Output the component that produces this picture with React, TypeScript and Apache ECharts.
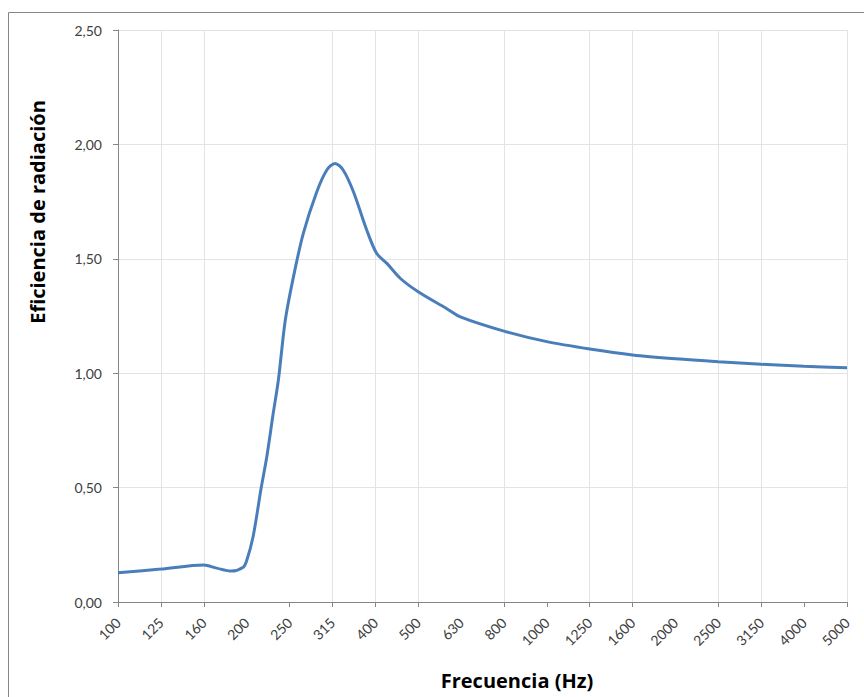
import React, { useEffect, useRef } from "react";
import * as echarts from "echarts";

// Third-octave band labels (x axis categories)
const bandLabels = [
  "100", "125", "160", "200", "250", "315", "400", "500", "630",
  "800", "1000", "1250", "1600", "2000", "2500", "3150", "4000", "5000",
];

// Bands that carry a tick / vertical gridline (200, 630 and 2000 have none)
const tickBands = [0, 1, 2, 4, 5, 6, 7, 9, 10, 11, 12, 14, 15, 16, 17];

// Sample positions along the band axis (band index, fractional between bands)
const samplePos = [
  0, 1, 2, 2.3, 2.65, 2.92, 3.0, 3.15, 3.34, 3.47, 3.62, 3.74, 3.9, 4.09,
  4.32, 4.63, 4.87, 5.06, 5.25, 5.49, 5.8, 6.03, 6.27, 6.58, 7.0, 7.65,
  8, 9, 10, 11, 12, 13, 14, 15, 16, 17,
];

// Radiation efficiency
const efficiency = [
  0.128, 0.144, 0.162, 0.148, 0.135, 0.152, 0.18, 0.285, 0.5, 0.635, 0.825, 0.97, 1.23, 1.42,
  1.61, 1.79, 1.888, 1.917, 1.888, 1.793, 1.626, 1.524, 1.48, 1.415, 1.356, 1.284,
  1.245, 1.184, 1.138, 1.106, 1.08, 1.063, 1.05, 1.039, 1.03, 1.024,
];

const yTicks = { min: 0, max: 2.5, interval: 0.5 };

export default function App() {
  const ref = useRef<HTMLDivElement>(null);

  useEffect(() => {
    if (!ref.current) return;
    const chart = echarts.init(ref.current, null, { renderer: "svg" });
    const axisColor = "#868686";
    const gridColor = "#e3e3e3";
    const labelFont = "Lato, 'Open Sans', sans-serif";
    const titleFont = "'Open Sans', Lato, sans-serif";
    const vGridColors = bandLabels.map((_, i) =>
      tickBands.indexOf(i) >= 0 ? gridColor : "rgba(0,0,0,0)"
    );
    chart.setOption({
      animation: false,
      backgroundColor: "#ffffff",
      grid: { left: 118, right: 17, top: 30, bottom: 95, containLabel: false },
      xAxis: {
        type: "value",
        min: 0,
        max: bandLabels.length - 1,
        interval: 1,
        axisLine: { show: true, lineStyle: { color: axisColor, width: 1 } },
        axisTick: {
          show: true,
          inside: false,
          length: 5,
          customValues: tickBands,
          lineStyle: { color: axisColor },
        },
        splitLine: { show: true, lineStyle: { color: vGridColors, width: 1 } },
        axisLabel: {
          rotate: 45,
          margin: 18,
          fontSize: 14,
          fontFamily: labelFont,
          color: "#404040",
          customValues: bandLabels.map((_, i) => i),
          formatter: (v: number) => bandLabels[Math.round(v)] ?? "",
        },
      },
      yAxis: {
        type: "value",
        min: yTicks.min,
        max: yTicks.max,
        interval: yTicks.interval,
        axisLine: { show: true, lineStyle: { color: axisColor, width: 1 } },
        axisTick: { show: true, inside: false, length: 5, lineStyle: { color: axisColor } },
        splitLine: { show: true, lineStyle: { color: gridColor, width: 1 } },
        axisLabel: {
          margin: 16,
          fontSize: 14,
          fontFamily: labelFont,
          color: "#404040",
          formatter: (v: number) => v.toFixed(2).replace(".", ","),
        },
      },
      series: [
        {
          type: "line",
          data: samplePos.map((p, i) => [p, efficiency[i]]),
          showSymbol: false,
          smooth: 0.3,
          lineStyle: { color: "#4a7ebb", width: 3 },
          itemStyle: { color: "#4a7ebb" },
        },
      ],
      graphic: [
        {
          type: "rect",
          shape: { x: 8.5, y: 12.5, width: 1000, height: 1000 },
          style: { fill: "none", stroke: "#868686", lineWidth: 1 },
          silent: true,
        },
        {
          type: "text",
          x: 517,
          y: 680,
          style: {
            text: "Frecuencia (Hz)",
            fontSize: 20,
            fontWeight: "bold",
            fontFamily: titleFont,
            fill: "#000000",
            align: "center",
            verticalAlign: "middle",
          },
        },
        {
          type: "text",
          x: 37,
          y: 212,
          rotation: Math.PI / 2,
          style: {
            text: "Eficiencia de radiación",
            fontSize: 20,
            fontWeight: "bold",
            fontFamily: titleFont,
            fill: "#000000",
            align: "center",
            verticalAlign: "middle",
          },
        },
      ],
    });
    return () => chart.dispose();
  }, []);

  return (
    <div
      ref={ref}
      style={{ position: "fixed", left: 0, top: 0, width: 864, height: 697 }}
    />
  );
}
